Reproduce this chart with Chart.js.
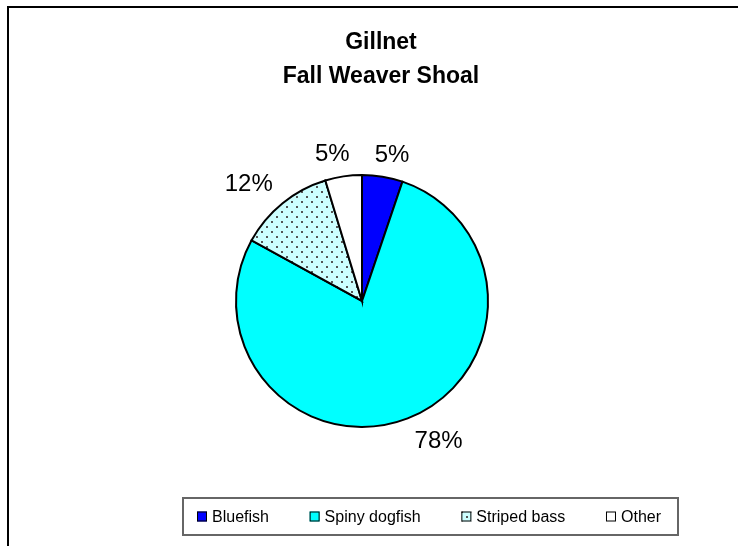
<!DOCTYPE html>
<html><head><meta charset="utf-8">
<script src="https://cdn.jsdelivr.net/npm/chart.js@4/dist/chart.umd.min.js"></script>
<style>html,body{margin:0;padding:0;background:#fff}#wrap{width:738px;height:546px;position:relative}</style>
</head><body><div id="wrap"><canvas id="c"></canvas></div>
<script>
const titleLines = ["Gillnet", "Fall Weaver Shoal"];
const categories = ["Bluefish", "Spiny dogfish", "Striped bass", "Other"];
const shares = [5.2, 77.8, 12.3, 4.7];

const FONT = "'Liberation Sans', Arial, sans-serif";

function dotPattern() {
  const p = document.createElement('canvas');
  p.width = 10; p.height = 10;
  const g = p.getContext('2d');
  g.fillStyle = '#CCFFFF'; g.fillRect(0, 0, 10, 10);
  g.fillStyle = '#555555';
  g.fillRect(1, 1, 2, 2); g.fillRect(6, 6, 2, 2);
  return g.createPattern(p, 'repeat');
}
const pat = dotPattern();
const sliceColors = ['#0000FF', '#00FFFF', pat, '#FFFFFF'];

const framePlugin = {
  id: 'frame',
  beforeDraw(chart) {
    const ctx = chart.ctx;
    ctx.save();
    ctx.fillStyle = '#fff'; ctx.fillRect(0, 0, chart.width, chart.height);
    ctx.fillStyle = '#000';
    ctx.fillRect(7, 6, chart.width - 7, 2);
    ctx.fillRect(7, 6, 2, chart.height - 6);
    ctx.restore();
  },
  afterDraw(chart, args, opts) {
    const ctx = chart.ctx;
    ctx.save();
    // title
    ctx.fillStyle = '#000';
    ctx.textAlign = 'center';
    ctx.textBaseline = 'alphabetic';
    ctx.font = `bold ${opts.titleSize}px ${FONT}`;
    titleLines.forEach((t, i) => ctx.fillText(t, opts.titleX, opts.titleY[i] + 0.358 * opts.titleSize));
    // legend
    const lg = opts.legend;
    ctx.font = `${lg.size}px ${FONT}`;
    const widths = categories.map(c => lg.box + lg.gap + ctx.measureText(c).width);
    const total = widths.reduce((a, b) => a + b, 0);
    const inner = (lg.x1 - lg.x0) - lg.padL - lg.padR;
    const spacing = (inner - total) / (categories.length - 1);
    ctx.strokeStyle = '#666';
    ctx.lineWidth = 2;
    ctx.strokeRect(lg.x0, lg.y0, lg.x1 - lg.x0, lg.y1 - lg.y0);
    const cy = (lg.y0 + lg.y1) / 2;
    let x = lg.x0 + lg.padL;
    ctx.textAlign = 'left';
    categories.forEach((c, i) => {
      ctx.fillStyle = sliceColors[i];
      ctx.fillRect(x, cy - lg.box / 2, lg.box, lg.box);
      ctx.strokeStyle = '#000'; ctx.lineWidth = 1;
      ctx.strokeRect(x + 0.5, cy - lg.box / 2 + 0.5, lg.box - 1, lg.box - 1);
      ctx.fillStyle = '#000';
      ctx.fillText(c, x + lg.box + lg.gap, cy + 0.358 * lg.size);
      x += widths[i] + spacing;
    });
    ctx.restore();
  }
};

const labelPlugin = {
  id: 'pctLabels',
  afterDatasetsDraw(chart, args, opts) {
    const ctx = chart.ctx;
    const meta = chart.getDatasetMeta(0);
    const data = chart.data.datasets[0].data;
    const sum = data.reduce((a, b) => a + b, 0);
    ctx.save();
    ctx.fillStyle = '#000';
    ctx.font = `${opts.size}px ${FONT}`;
    ctx.textAlign = 'center';
    ctx.textBaseline = 'alphabetic';
    meta.data.forEach((arc, i) => {
      const p = arc.getProps(['x', 'y', 'startAngle', 'endAngle', 'outerRadius'], true);
      const mid = (p.startAngle + p.endAngle) / 2;
      const r = p.outerRadius + opts.dist;
      const lx = p.x + r * Math.cos(mid) + opts.nudge[i][0];
      const ly = p.y + r * Math.sin(mid) + opts.nudge[i][1];
      const txt = Math.round(data[i] / sum * 100) + '%';
      ctx.fillText(txt, lx, ly + 0.358 * opts.size);
    });
    ctx.restore();
  }
};

new Chart(document.getElementById('c'), {
  type: 'pie',
  data: {
    labels: categories,
    datasets: [{
      data: shares,
      backgroundColor: sliceColors,
      borderColor: '#000',
      borderWidth: 2,
      borderJoinStyle: 'miter'
    }]
  },
  plugins: [framePlugin, labelPlugin],
  options: {
    responsive: true,
    maintainAspectRatio: false,
    animation: false,
    radius: 126,
    layout: { padding: { top: 128, bottom: 72, left: 0, right: 14 } },
    plugins: {
      legend: { display: false },
      title: { display: false },
      tooltip: { enabled: false },
      frame: {
        titleSize: 23, titleX: 381, titleY: [41, 75],
        legend: { x0: 183, x1: 678, y0: 498, y1: 535, size: 16, box: 10, gap: 5, padL: 14, padR: 17 }
      },
      pctLabels: {
        size: 24, dist: 22,
        nudge: [[6, -2], [23, 0], [-20, -4], [-8, -2]]
      }
    }
  }
});
</script></body></html>
